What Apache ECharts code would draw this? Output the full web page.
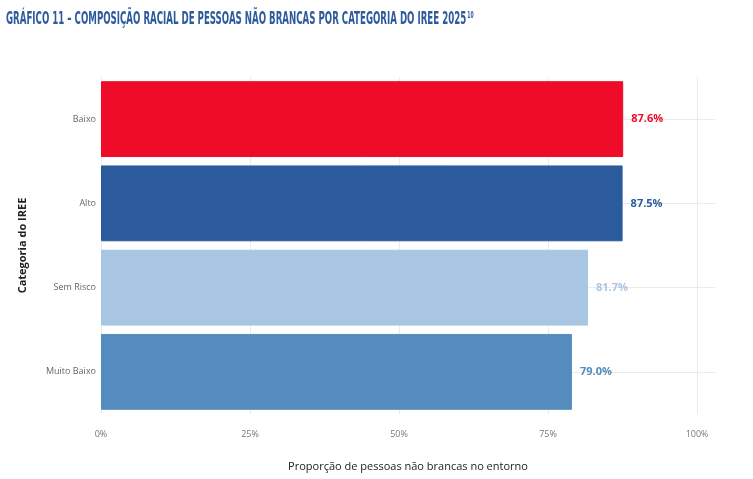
<!DOCTYPE html>
<html>
<head>
<meta charset="utf-8">
<script src="https://cdn.jsdelivr.net/npm/echarts@6/dist/echarts.min.js"></script>
<style>
  html, body { margin: 0; padding: 0; background: #fff; }
  #main { width: 753px; height: 479px; }
</style>
</head>
<body>
<div id="main"></div>
<script>
// data
var categories = ['Baixo', 'Alto', 'Sem Risco', 'Muito Baixo'];
var values = [87.6, 87.5, 81.7, 79.0];
var barColors = ['#ee0c28', '#2b5b9c', '#a8c6e2', '#548cbd'];
var xTicks = [0, 25, 50, 75, 100];

var myChart = echarts.init(document.getElementById('main'));

var seriesData = values.map(function (v, i) {
  return {
    value: v,
    itemStyle: { color: barColors[i], borderColor: barColors[i], borderWidth: 1 },
    label: { color: barColors[i] }
  };
});

var titleFont = '"DejaVu Sans Condensed", "DejaVu Sans", sans-serif';

myChart.setOption({
  animation: false,
  backgroundColor: '#ffffff',
  // the title face in the original is a tall condensed display font, so squeeze it
  graphic: [{
    type: 'text',
    x: 6,
    y: 11,
    scaleX: 0.565,
    scaleY: 1,
    style: {
      text: '{t|GRÁFICO 11 – COMPOSIÇÃO RACIAL DE PESSOAS NÃO BRANCAS POR CATEGORIA DO IREE 2025}{s|10}',
      rich: {
        t: {
          fontFamily: titleFont,
          fontWeight: 'bold',
          fontSize: 17,
          fill: '#2d5a9b'
        },
        s: {
          fontFamily: titleFont,
          fontWeight: 'bold',
          fontSize: 9,
          fill: '#2d5a9b',
          padding: [0, 0, 8, 2]
        }
      }
    }
  }],
  grid: { left: 101, right: 38, top: 77, bottom: 65, containLabel: false },
  xAxis: {
    type: 'value',
    min: 0,
    max: 103,
    interval: 25,
    name: 'Proporção de pessoas não brancas no entorno',
    nameLocation: 'middle',
    nameGap: 47,
    nameTextStyle: { fontFamily: 'Open Sans', fontSize: 11, color: '#222' },
    axisLine: { show: false },
    axisTick: { show: false },
    axisLabel: {
      fontFamily: 'Open Sans',
      fontSize: 9,
      color: '#777',
      margin: 16,
      formatter: function (v) {
        return xTicks.indexOf(v) >= 0 ? v + '%' : '';
      }
    },
    splitLine: { showMaxLine: false, lineStyle: { color: '#ebebeb', width: 1 } }
  },
  yAxis: {
    type: 'category',
    inverse: true,
    data: categories,
    name: 'Categoria do IREE',
    nameLocation: 'middle',
    nameGap: 73,
    nameRotate: 90,
    nameTextStyle: { fontFamily: 'Open Sans', fontSize: 11, fontWeight: 'bold', color: '#222' },
    axisLine: { show: false },
    axisTick: { show: false },
    axisLabel: { fontFamily: 'Open Sans', fontSize: 9, color: '#666', margin: 5 },
    splitLine: { show: true, alignWithLabel: true, lineStyle: { color: '#ebebeb', width: 1 } }
  },
  series: [{
    type: 'bar',
    data: seriesData,
    barCategoryGap: '10%',
    label: {
      show: true,
      position: 'right',
      distance: 8,
      fontFamily: 'Open Sans',
      fontWeight: 'bold',
      fontSize: 11,
      formatter: function (p) { return p.value.toFixed(1) + '%'; }
    }
  }]
});
</script>
</body>
</html>
